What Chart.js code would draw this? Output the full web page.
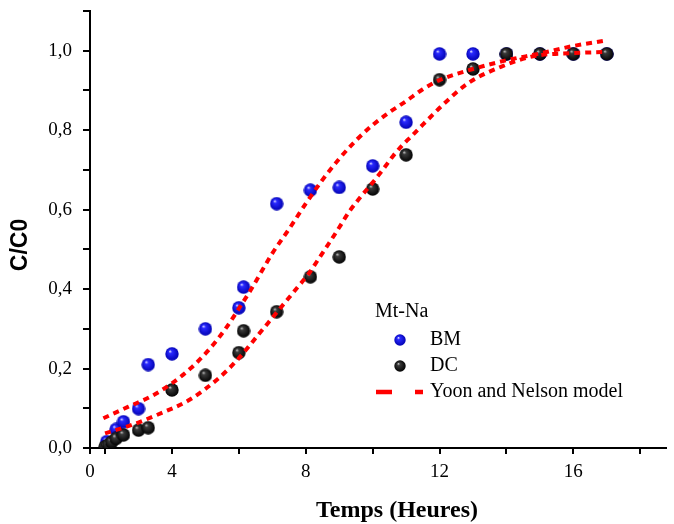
<!DOCTYPE html>
<html>
<head>
<meta charset="utf-8">
<script src="https://cdn.jsdelivr.net/npm/chart.js@4.4.0/dist/chart.umd.min.js"></script>
<style>
  html, body { margin: 0; padding: 0; background: #fff; }
</style>
</head>
<body>
<canvas id="myChart" width="674" height="524"></canvas>
<script>
// measured points (time in hours as read against the 4/8/12/16 ticks)
const timeBM = [2.05, 2.33, 2.55, 3.0, 3.29, 4.0, 5.0, 6.0, 6.14, 7.13, 8.14, 9.0, 10.0, 11.0, 12.0, 13.0, 14.0, 15.0, 16.0, 17.0];
const valBM  = [0.016, 0.047, 0.066, 0.099, 0.21, 0.237, 0.30, 0.353, 0.405, 0.615, 0.649, 0.656, 0.71, 0.82, 0.992, 0.992, 0.992, 0.992, 0.992, 0.992];

const timeDC = [2.0, 2.1, 2.2, 2.33, 2.55, 3.0, 3.29, 4.0, 5.0, 6.0, 6.14, 7.13, 8.14, 9.0, 10.0, 11.0, 12.0, 13.0, 14.0, 15.0, 16.0, 17.0];
const valDC  = [0.003, 0.008, 0.015, 0.024, 0.033, 0.045, 0.051, 0.146, 0.183, 0.24, 0.295, 0.343, 0.431, 0.481, 0.652, 0.738, 0.927, 0.954, 0.992, 0.992, 0.992, 0.992];

// Yoon and Nelson model curves
const timeFitBM = [1.95, 2.7, 3.4, 4.0, 4.55, 5.1, 5.6, 6.1, 6.35, 6.65, 7.0, 7.5, 8.0, 8.5, 9.0, 9.5, 10.0, 10.5, 11.0, 11.5, 12.0, 13.0, 14.0, 15.0, 16.0, 17.0];
const fitBM     = [0.075, 0.104, 0.131, 0.163, 0.20, 0.247, 0.30, 0.364, 0.397, 0.44, 0.49, 0.551, 0.615, 0.675, 0.728, 0.774, 0.813, 0.845, 0.873, 0.903, 0.926, 0.954, 0.976, 0.993, 1.012, 1.026];

const timeFitDC = [2.0, 2.8, 3.6, 4.5, 5.4, 6.0, 6.6, 7.15, 7.75, 8.1, 8.4, 8.7, 9.0, 9.3, 9.65, 10.0, 10.3, 10.6, 10.9, 11.2, 11.5, 11.8, 12.1, 12.85, 13.85, 14.8, 16.0, 17.0];
const fitDC     = [0.037, 0.058, 0.085, 0.12, 0.176, 0.226, 0.287, 0.343, 0.404, 0.44, 0.478, 0.516, 0.555, 0.595, 0.633, 0.668, 0.70, 0.734, 0.763, 0.788, 0.814, 0.839, 0.864, 0.918, 0.96, 0.986, 0.994, 0.997];

// axis ticks
const X_MIN = 1.55;
const X_MAX = 18.77;
const xTicks = [2, 4, 6, 8, 10, 12, 14, 16, 18];
const xTickLabels = [4, 8, 12, 16];

const toXY = (xs, ys) => xs.map((x, i) => ({ x: x, y: ys[i] }));

// little shaded balls used as markers
function makeSphere(r, light, mid, dark) {
  const c = document.createElement('canvas');
  c.width = c.height = r * 2;
  const g = c.getContext('2d');
  const grad = g.createRadialGradient(r * 0.7, r * 0.6, 0, r, r, r);
  grad.addColorStop(0, light);
  grad.addColorStop(0.25, mid);
  grad.addColorStop(1, dark);
  g.fillStyle = grad;
  g.beginPath();
  g.arc(r, r, r - 0.3, 0, Math.PI * 2);
  g.fill();
  return c;
}
const blueBall = makeSphere(7, '#ffffff', '#2a2aff', '#0000b0');
const blackBall = makeSphere(7, '#d8d8d8', '#3a3a3a', '#000000');
const blueBallSm = makeSphere(6, '#ffffff', '#2a2aff', '#0000b0');
const blackBallSm = makeSphere(6, '#d8d8d8', '#3a3a3a', '#000000');

// titles and legend drawn on top of the chart
const overlay = {
  id: 'overlay',
  afterDraw(chart) {
    const ctx = chart.ctx;
    ctx.save();
    ctx.fillStyle = '#000';
    ctx.textBaseline = 'middle';

    // y title
    ctx.save();
    ctx.translate(21, 245);
    ctx.rotate(-Math.PI / 2);
    ctx.textAlign = 'center';
    ctx.font = 'bold 23px "Liberation Sans", Arial, sans-serif';
    ctx.fillText('C/C0', 0, 0);
    ctx.restore();

    // x title
    ctx.textAlign = 'center';
    ctx.font = 'bold 24px "Liberation Serif", "Times New Roman", serif';
    ctx.fillText('Temps (Heures)', 397, 511);

    // legend
    ctx.textAlign = 'left';
    ctx.font = '20px "Liberation Serif", "Times New Roman", serif';
    ctx.fillText('Mt-Na', 375, 312);
    ctx.drawImage(blueBallSm, 394, 334);
    ctx.fillText('BM', 430, 340);
    ctx.drawImage(blackBallSm, 394, 360);
    ctx.fillText('DC', 430, 366);
    ctx.strokeStyle = '#ff0000';
    ctx.lineWidth = 4.5;
    ctx.setLineDash([16, 23]);
    ctx.beginPath();
    ctx.moveTo(376, 392);
    ctx.lineTo(423, 392);
    ctx.stroke();
    ctx.setLineDash([]);
    ctx.fillText('Yoon and Nelson model', 430, 392);
    ctx.restore();
  }
};

const fitStyle = {
  showLine: true,
  pointRadius: 0,
  borderColor: '#ff0000',
  borderWidth: 4,
  borderDash: [6, 5],
  cubicInterpolationMode: 'monotone',
  fill: false
};

const ctx = document.getElementById('myChart').getContext('2d');
new Chart(ctx, {
  type: 'scatter',
  data: {
    datasets: [
      Object.assign({ label: 'Yoon and Nelson BM', data: toXY(timeFitBM, fitBM) }, fitStyle),
      Object.assign({ label: 'Yoon and Nelson DC', data: toXY(timeFitDC, fitDC) }, fitStyle),
      { label: 'DC', data: toXY(timeDC, valDC), pointStyle: blackBall, pointRadius: 7 },
      { label: 'BM', data: toXY(timeBM, valBM), pointStyle: blueBall, pointRadius: 7 }
    ]
  },
  options: {
    responsive: false,
    animation: false,
    devicePixelRatio: 1,
    layout: { padding: 0 },
    plugins: {
      legend: { display: false },
      tooltip: { enabled: false }
    },
    scales: {
      x: {
        type: 'linear',
        min: X_MIN,
        max: X_MAX,
        afterBuildTicks: scale => {
          scale.ticks = [X_MIN].concat(xTicks).map(v => ({ value: v }));
        },
        afterFit: scale => {
          scale.height = 76;
          scale.paddingLeft = 0;
          scale.paddingRight = 0;
        },
        border: { display: true, color: '#000', width: 2 },
        grid: { drawOnChartArea: false, drawTicks: true, tickLength: 6, color: '#000', lineWidth: 2 },
        ticks: {
          autoSkip: false,
          maxRotation: 0,
          padding: 7,
          color: '#000',
          font: { family: '"Liberation Serif", "Times New Roman", serif', size: 19 },
          callback: v => v === X_MIN ? '0' : (xTickLabels.includes(v) ? String(v) : '')
        }
      },
      y: {
        min: 0,
        max: 1.1,
        afterFit: scale => {
          scale.width = 90;
          scale.paddingTop = 11;
          scale.paddingBottom = 0;
        },
        border: { display: true, color: '#000', width: 2 },
        grid: { drawOnChartArea: false, drawTicks: true, tickLength: 7, color: '#000', lineWidth: 2 },
        ticks: {
          stepSize: 0.1,
          autoSkip: false,
          padding: 11,
          color: '#000',
          font: { family: '"Liberation Serif", "Times New Roman", serif', size: 19 },
          callback: v => Math.round(v * 10) % 2 === 0 ? v.toFixed(1).replace('.', ',') : ''
        }
      }
    }
  },
  plugins: [overlay]
});
</script>
</body>
</html>
